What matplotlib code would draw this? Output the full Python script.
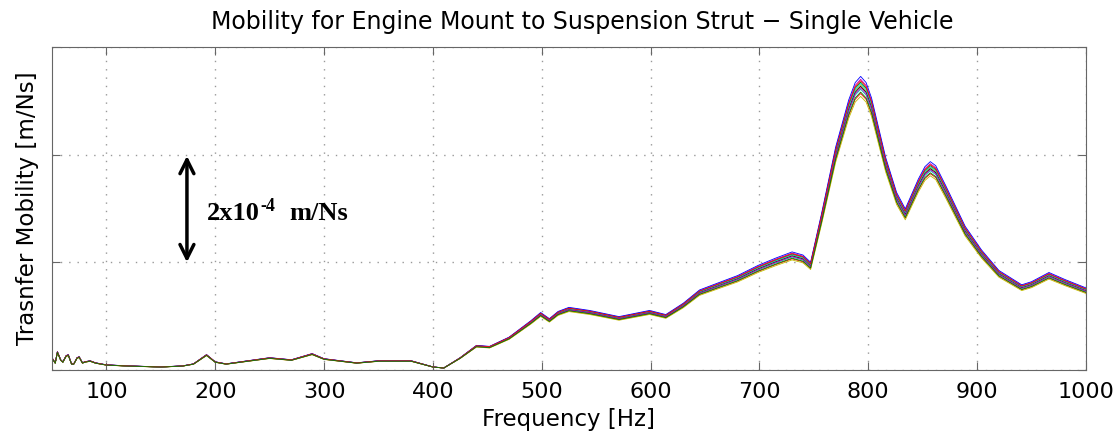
import matplotlib
matplotlib.use("Agg")
import matplotlib.pyplot as plt
import numpy as np

# frequency points [Hz] and mean mobility curve [x1e-4 m/Ns]
freq = [50, 53, 55, 58, 60, 63, 65, 68, 70, 73, 75, 78, 80, 85, 90, 100, 120,
        150, 170, 180, 192, 200, 210, 230, 250, 270, 289, 300, 330, 350, 380,
        400, 410, 425, 440, 452, 470, 490, 499, 507, 515, 525, 544, 571, 599,
        614, 630, 645, 660, 680, 699, 715, 730, 740, 747, 757, 770, 782, 788,
        793, 798, 803, 816, 826, 834, 846, 852, 857, 862, 871, 889, 904, 920,
        941, 950, 966, 981, 1000]
mob = [0.222, 0.130, 0.333, 0.185, 0.148, 0.260, 0.278, 0.111, 0.111, 0.222,
       0.241, 0.130, 0.148, 0.167, 0.130, 0.093, 0.074, 0.056, 0.074, 0.111,
       0.278, 0.148, 0.111, 0.167, 0.222, 0.185, 0.296, 0.204, 0.130, 0.167,
       0.167, 0.056, 0.037, 0.222, 0.444, 0.426, 0.593, 0.889, 1.037, 0.926,
       1.056, 1.130, 1.074, 0.963, 1.074, 1.000, 1.204, 1.444, 1.556, 1.704,
       1.889, 2.019, 2.130, 2.074, 1.944, 2.815, 4.019, 4.870, 5.185, 5.296,
       5.185, 4.907, 3.833, 3.204, 2.907, 3.444, 3.667, 3.759, 3.685, 3.333,
       2.593, 2.167, 1.796, 1.537, 1.593, 1.759, 1.630, 1.481]

# spread of the individual measurements (gain per run, from the peak spread)
run_gain = [1.00, 0.985, 1.02, 0.97, 1.01, 0.995, 1.03, 0.96, 1.005, 0.99,
            1.015, 0.975]
run_colors = ['y', 'c', 'm', 'r', 'g', 'k', 'b']

xticks = [100, 200, 300, 400, 500, 600, 700, 800, 900, 1000]
yticks = [0, 2e-4, 4e-4, 6e-4]

font = 'DejaVu Sans'

fig = plt.figure(figsize=(11.13, 4.36), dpi=100)
ax = fig.add_axes([0.0467, 0.1514, 0.929, 0.7406])

f = np.array(freq)
m = np.array(mob) * 1e-4
for i, g in enumerate(run_gain):
    ax.plot(f, m * g, color=run_colors[i % len(run_colors)], lw=0.6)

ax.set_xlim(50, 1000)
ax.set_ylim(0, 6e-4)
ax.set_xticks(xticks)
ax.set_yticks(yticks)
ax.set_yticklabels([])
ax.tick_params(direction='in', top=True, right=True, length=6, color='#666666',
               labelsize=16)
ax.tick_params(axis='x', pad=9)
for lab in ax.get_xticklabels():
    lab.set_family(font)
ax.grid(True, linestyle=(0, (1, 5)), color='#999999', lw=1.0)
for sp in ax.spines.values():
    sp.set_color('#666666')

ax.set_xlabel('Frequency [Hz]', fontsize=16.5, family=font, labelpad=4)
ax.set_ylabel('Trasnfer Mobility [m/Ns]', fontsize=16.5, family=font,
              labelpad=6)
ax.set_title('Mobility for Engine Mount to Suspension Strut \u2212 Single Vehicle',
             fontsize=17, family=font, pad=13, x=0.5126)

# 2x10^-4 scale arrow
ax.annotate('', xy=(174, 4.03e-4), xytext=(174, 1.95e-4),
            arrowprops=dict(arrowstyle='<->', lw=2.5, color='black',
                            mutation_scale=25))
base = (192.4, 2.79e-4)
ax.annotate('2x10', xy=base, xytext=(0, 0), textcoords='offset pixels',
            fontsize=19, family='Liberation Serif', weight='bold', va='baseline')
ax.annotate('-4', xy=base, xytext=(53, 9), textcoords='offset pixels',
            fontsize=13, family='Liberation Serif', weight='bold', va='baseline')
ax.annotate('m/Ns', xy=base, xytext=(82, 0), textcoords='offset pixels',
            fontsize=19, family='Liberation Serif', weight='bold', va='baseline')

fig.savefig('out.png', dpi=100)
